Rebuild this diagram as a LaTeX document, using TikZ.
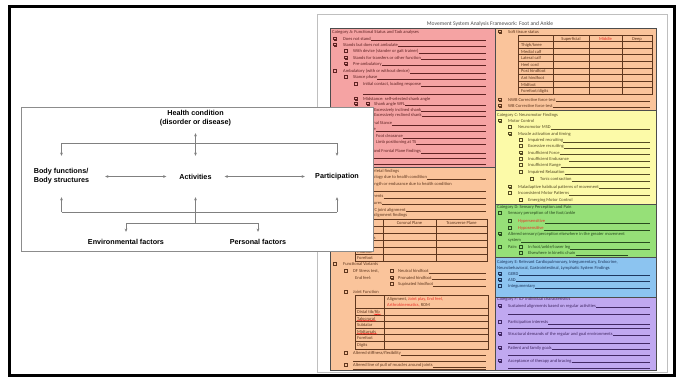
\documentclass[tikz,border=0pt]{standalone}
\usepackage{fontspec}
\setmainfont{Carlito}
\newfontfamily\icffont{Liberation Sans}
\usetikzlibrary{arrows.meta,decorations.pathmorphing}

% fills of the form sections
\definecolor{pinkA}{RGB}{245,163,163}
\definecolor{peachB}{RGB}{250,196,155}
\definecolor{yellowC}{RGB}{252,250,168}
\definecolor{greenD}{RGB}{150,224,120}
\definecolor{blueE}{RGB}{140,196,240}
\definecolor{purpleF}{RGB}{192,168,240}
% text and rule colours
\definecolor{inkA}{RGB}{95,35,35}
\definecolor{inkB}{RGB}{95,55,30}
\definecolor{inkC}{RGB}{85,75,35}
\definecolor{inkD}{RGB}{40,75,30}
\definecolor{inkE}{RGB}{30,55,95}
\definecolor{inkF}{RGB}{65,40,100}
\definecolor{redtxt}{RGB}{235,50,40}
\definecolor{icfgray}{RGB}{128,128,128}

% checkbox at box centre x, baseline y
\newcommand{\chkbox}[2]{%
  \draw[line width=0.6pt] (#1-1.4,#2-3.1) rectangle ++(2.7,2.7);
  \draw[line width=0.7pt] (#1-0.9,#2+0.1) -- (#1+1.8,#2+0.1) -- (#1+1.8,#2-2.7);
}

\tikzset{
  icf/.style={font=\icffont\bfseries\fontsize{7.2}{8.8}\selectfont, inner sep=0pt, align=center},
  icfline/.style={draw=icfgray, line width=0.8pt},
  icfarrow/.style={icfline, -{Stealth[length=3.2pt,width=2.8pt]}},
  icfboth/.style={icfline, {Stealth[length=3.2pt,width=2.8pt]}-{Stealth[length=3.2pt,width=2.8pt]}},
  ftext/.style={font=\fontsize{4.5}{5.2}\selectfont, inner sep=0pt, anchor=base west},
  uline/.style={line width=0.6pt},
  tline/.style={line width=0.6pt},
  block/.style={draw=black!70, line width=0.4pt},
  spell/.style={draw=red, line width=0.3pt, decorate, decoration={snake, amplitude=0.35pt, segment length=1.4pt}},
}

\begin{document}
\begin{tikzpicture}[x=1pt,y=-1pt]
\useasboundingbox (0,0) rectangle (683,380);
\fill[white] (0,0) rectangle (683,380);

%% the form page
\draw[draw=black!25, line width=0.6pt, fill=white] (317,14) rectangle (667,372);
\node[font=\fontsize{5.6}{6}\selectfont, text=black!70, inner sep=0pt] (title) at (490,24) {Movement System Analysis Framework: Foot and Ankle};

% section blocks
\draw[block, fill=pinkA] (330,28) rectangle (495,167);
\draw[block, fill=peachB] (330,167) rectangle (495,370);
\draw[block, fill=peachB] (495,28) rectangle (656,110);
\draw[block, fill=yellowC] (495,110) rectangle (656,204);
\draw[block, fill=greenD] (495,204) rectangle (656,257);
\draw[block, fill=blueE] (495,257) rectangle (656,297);
\draw[block, fill=purpleF] (495,297) rectangle (656,370);

% left column, category A
\begin{scope}[color=inkA, every node/.append style={text=inkA}]
\foreach \bx/\tx/\y/\t/\e [count=\i] in {
  0/332/33/{Category A: Functional Status and Task analyses}/0,
  335/343/40/{Does not stand}/486,
  335/343/46/{Stands but does not ambulate}/486,
  346/353/52.5/{With device (stander or gait trainer)}/486,
  346/353/59/{Stands for transfers or other function}/486,
  346/353/65/{Pre-ambulatory}/486,
  335/343/72.5/{Ambulatory (with or without device)}/486,
  346/353/78.5/{Stance phase}/486,
  356/363/85.5/{Initial contact, loading response}/486,
  356/363/100/{Midstance: self-selected shank angle}/0,
  368/374/105/{Shank angle WFL}/486,
  368/374/111/{Excessively inclined shank}/486,
  368/374/116/{Excessively reclined shank}/486,
  356/363/124.5/{Terminal Stance}/486,
  346/353/130.5/{Swing phase}/486,
  368/376/137.5/{Foot clearance}/486,
  368/376/143.5/{Limb positioning at TS}/486,
  346/353/152.5/{Transverse and Frontal Plane findings}/486,
  335/343/163.5/{Postural status}/486}{
  \ifnum\bx>0 \chkbox{\bx}{\y}\fi
  \node[ftext] (a\i) at (\tx,\y) {\t};
  \ifnum\e>0 \draw[uline] (a\i.base east) ++(0,0.4) -- (\e,\y+0.4);\fi
}
\chkbox{356}{105}
\draw[uline] (363,94) -- (486,94);
\draw[uline] (353,158) -- (486,158);
\end{scope}

% left column, category B
\begin{scope}[color=inkB, every node/.append style={text=inkB}]
\foreach \bx/\tx/\y/\t/\e [count=\i] in {
  0/332/172.5/{Category B: Musculoskeletal findings}/0,
  346/353/178.5/{Pathophysiology due to health condition}/486,
  346/353/185.5/{Muscle strength or endurance due to health condition}/0,
  346/353/197.5/{Bony alignments}/486,
  346/353/204/{Bony structures}/486,
  346/353/211/{Estimated TC joint alignment}/486,
  346/353/216.5/{Segmental alignment findings}/0,
  335/343/265.5/{Functional Variants}/0,
  346/353/272.5/{DF Stress test,}/0,
  0/355/279/{End feel:}/0,
  392/398/272.5/{Neutral hindfoot}/486,
  392/398/279/{Pronated hindfoot}/486,
  392/398/285.5/{Supinated hindfoot}/486,
  346/353/293.5/{Joint Function}/0,
  346/353/354.5/{Altered stiffness/flexibility}/486,
  346/353/366.5/{Altered line of pull of muscles around joints}/486}{
  \ifnum\bx>0 \chkbox{\bx}{\y}\fi
  \node[ftext] (b\i) at (\tx,\y) {\t};
  \ifnum\e>0 \draw[uline] (b\i.base east) ++(0,0.4) -- (\e,\y+0.4);\fi
}
\draw[uline] (353,191) -- (486,191);
\draw[uline] (353,361) -- (486,361);
\draw[uline] (353,369.5) -- (486,369.5);
% alignment table
\draw[tline] (355,219) rectangle (487,261);
\draw[tline] (383,219) -- (383,261);
\draw[tline] (436,219) -- (436,261);
\foreach \ry in {226.5,233.5,240.5,247.5,254} \draw[tline] (355,\ry) -- (487,\ry);
\node[ftext, anchor=base] (coronal) at (409.5,224.5) {Coronal Plane};
\node[ftext, anchor=base] (transverse) at (461.5,224.5) {Transverse Plane};
\foreach \lab/\ly [count=\i] in {Tibia/232, Calcaneus/239, Hindfoot/246, Midfoot/253, Forefoot/259.5}
  \node[ftext] (al\i) at (357,\ly) {\lab};
% joint function table
\draw[tline] (355,295) rectangle (488,349);
\draw[tline] (384,295) -- (384,349);
\foreach \ry in {308,315,321.5,328,334.5,341} \draw[tline] (355,\ry) -- (488,\ry);
\node[ftext] (jhead1) at (387,300.5) {Alignment, \textcolor{redtxt}{Joint play, End feel,}};
\node[ftext] (jhead2) at (387,306) {\textcolor{redtxt}{Arthrokinematics,} ROM};
\foreach \lab/\ly [count=\i] in {{Distal tib/fib}/313.5, Talocrural/320, Subtalar/326.5, Midtarsals/333, Forefoot/339.5, Digits/346.5}
  \node[ftext] (jr\i) at (357,\ly) {\lab};
\draw[spell] (jr2.base west) ++(0,0.8) -- ++(19,0);
\draw[spell] (jr4.base west) ++(0,0.8) -- ++(20,0);
\draw[spell] (374,314.3) -- ++(7,0);
\end{scope}

% right column, soft tissue (category B continued)
\begin{scope}[color=inkB, every node/.append style={text=inkB}]
\foreach \bx/\tx/\y/\t/\e [count=\i] in {
  500/508/33/{Soft tissue status}/0,
  500/508/101/{NWB Corrective force test}/650,
  500/508/107/{WB Corrective force test}/650}{
  \chkbox{\bx}{\y}
  \node[ftext] (s\i) at (\tx,\y) {\t};
  \ifnum\e>0 \draw[uline] (s\i.base east) ++(0,0.4) -- (\e,\y+0.4);\fi
}
\draw[tline] (518,35) rectangle (652,94.5);
\foreach \cx in {553,589,622} \draw[tline] (\cx,35) -- (\cx,94.5);
\foreach \ry in {41.5,48.1,54.7,61.3,67.9,74.5,81.1,87.7} \draw[tline] (518,\ry) -- (652,\ry);
\node[ftext, anchor=base] (sup) at (571,40) {Superficial};
\node[ftext, anchor=base, text=redtxt] (mid) at (605.5,40) {Middle};
\node[ftext, anchor=base] (deep) at (637,40) {Deep};
\foreach \lab/\ly [count=\i] in {{Thigh/knee}/46.5, Medial calf/53.1, Lateral calf/59.7, Heel cord/66.3, Post hindfoot/72.9, Ant hindfoot/79.5, Midfoot/86.1, {Forefoot/digits}/92.7}
  \node[ftext] (st\i) at (521,\ly) {\lab};
\end{scope}

% right column, category C
\begin{scope}[color=inkC, every node/.append style={text=inkC}]
\foreach \bx/\tx/\y/\t/\e [count=\i] in {
  0/497/116/{Category C: Neuromotor Findings}/0,
  500/508/122/{Motor Control}/0,
  510/518/128.5/{Neuromotor MSD}/650,
  510/518/135/{Muscle activation and timing}/0,
  521/528/141.5/{Impaired recruiting}/650,
  521/528/147.5/{Excessive recruiting}/650,
  521/528/154/{Insufficient Force}/650,
  521/528/160.5/{Insufficient Endurance}/650,
  521/528/166.5/{Insufficient Range}/650,
  521/528/173.5/{Impaired Relaxation}/650,
  532/540/180.5/{Tonic contraction}/650,
  510/518/188/{Maladaptive habitual patterns of movement}/650,
  510/518/194.5/{Inconsistent Motor Patterns}/650,
  521/528/201.5/{Emerging Motor Control}/0}{
  \ifnum\bx>0 \chkbox{\bx}{\y}\fi
  \node[ftext] (c\i) at (\tx,\y) {\t};
  \ifnum\e>0 \draw[uline] (c\i.base east) ++(0,0.4) -- (\e,\y+0.4);\fi
}
\end{scope}

% right column, category D
\begin{scope}[color=inkD, every node/.append style={text=inkD}]
\foreach \bx/\tx/\y/\t/\e [count=\i] in {
  0/497/208.5/{Category D: Sensory Perception and Pain}/0,
  500/508/214.5/{Sensory perception of the foot/ankle}/0,
  510/518/222.5/{\textcolor{redtxt}{Hypersensitive}}/650,
  510/518/229.5/{\textcolor{redtxt}{Hyposensitive}}/650,
  500/508/235/{Altered sensory/perception elsewhere in the greater movement}/0,
  0/508/241.5/{system}/650,
  500/508/248.5/{Pain:}/0,
  521/528/248.5/{In foot/ankle/lower leg}/650,
  521/528/254.5/{Elsewhere in kinetic chain}/628}{
  \ifnum\bx>0 \chkbox{\bx}{\y}\fi
  \node[ftext] (d\i) at (\tx,\y) {\t};
  \ifnum\e>0 \draw[uline] (d\i.base east) ++(0,0.4) -- (\e,\y+0.4);\fi
}
\end{scope}

% right column, category E
\begin{scope}[color=inkE, every node/.append style={text=inkE}]
\foreach \bx/\tx/\y/\t/\e [count=\i] in {
  0/497/263.5/{Category E: Relevant Cardiopulmonary, Integumentary, Endocrine,}/0,
  0/497/269/{Neurobehavioral, Gastrointestinal, Lymphatic System Findings}/0,
  500/508/275/{GERD}/650,
  500/508/281/{ASD}/650,
  500/508/287.5/{Integumentary}/650}{
  \ifnum\bx>0 \chkbox{\bx}{\y}\fi
  \node[ftext] (e\i) at (\tx,\y) {\t};
  \ifnum\e>0 \draw[uline] (e\i.base east) ++(0,0.4) -- (\e,\y+0.4);\fi
}
\end{scope}

% right column, category F
\begin{scope}[color=inkF, every node/.append style={text=inkF}]
\foreach \bx/\tx/\y/\t/\e [count=\i] in {
  0/497/300/{Category F: ICF individual characteristics}/0,
  500/508/307/{Sustained alignments based on regular activities}/650,
  500/508/323.5/{Participation interests}/650,
  500/508/335/{Structural demands of the regular and goal environments}/650,
  500/508/349/{Patient and family goals}/650,
  500/508/362/{Acceptance of therapy and bracing}/650}{
  \ifnum\bx>0 \chkbox{\bx}{\y}\fi
  \node[ftext] (f\i) at (\tx,\y) {\t};
  \ifnum\e>0 \draw[uline] (f\i.base east) ++(0,0.4) -- (\e,\y+0.4);\fi
}
\foreach \ly in {314.5,328.5,343,355.5,368.5} \draw[uline] (508,\ly) -- (650,\ly);
\end{scope}

%% ICF model on top
\draw[draw=black!45, line width=0.8pt, fill=white] (21,107) rectangle (373,251);
\node[icf, minimum height=29pt] (health) at (195.5,118.5) {Health condition\\(disorder or disease)};
\node[icf, minimum width=58pt, minimum height=41pt] (act) at (195.5,176.5) {Activities};
\node[icf, align=left, minimum width=87pt, minimum height=41pt] (body) at (61.5,176.5) {Body functions/\\Body structures};
\node[icf, minimum width=64pt, minimum height=41pt] (part) at (337,176.5) {Participation};
\node[icf, minimum height=20pt] (env) at (126,242) {Environmental factors};
\node[icf, minimum height=20pt] (pers) at (258,242) {Personal factors};
\coordinate (topbar) at (195.5,143);
\coordinate (lowbar) at (195.5,212);
\coordinate (factbar) at (195.5,223);
\draw[icfboth] (health) -- (act);
\draw[icfline] (body.north |- topbar) -- (part.north |- topbar);
\draw[icfarrow] (body.north |- topbar) -- (body.north);
\draw[icfarrow] (part.north |- topbar) -- (part.north);
\draw[icfboth] (body) -- (act);
\draw[icfboth] (act) -- (part);
\draw[icfline] (body.south |- lowbar) -- (part.south |- lowbar);
\draw[icfarrow] (body.south |- lowbar) -- (body.south);
\draw[icfarrow] (part.south |- lowbar) -- (part.south);
\draw[icfarrow] (factbar) -- (act.south);
\draw[icfline] (env.north |- factbar) -- (pers.north |- factbar);
\draw[icfarrow] (env.north |- factbar) -- (env.north);
\draw[icfarrow] (pers.north |- factbar) -- (pers.north);

%% outer frame
\draw[line width=3pt] (9.5,6.5) rectangle (674.5,375.5);
\end{tikzpicture}
\end{document}
